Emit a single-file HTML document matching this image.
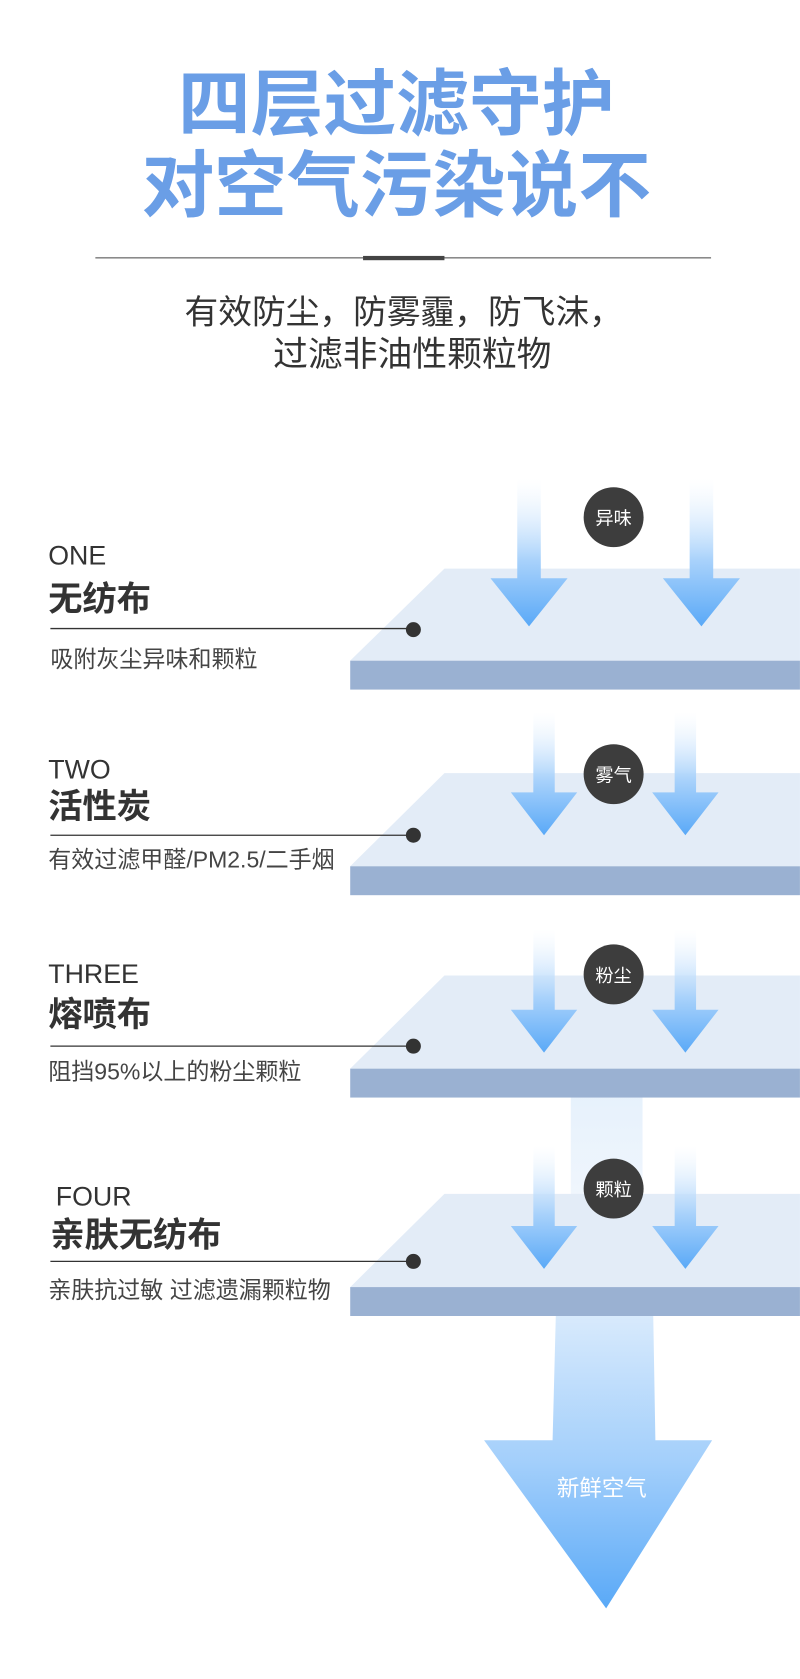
<!DOCTYPE html>
<html><head><meta charset="utf-8"><style>
html,body{margin:0;padding:0;background:#fff;}
svg{display:block;}
text{font-family:"Liberation Sans","Noto Sans CJK SC",sans-serif;}
</style></head><body>
<svg width="800" height="1679" viewBox="0 0 747 1568" xmlns="http://www.w3.org/2000/svg">
<defs>
<linearGradient id="ag" x1="0" y1="0" x2="0" y2="1">
<stop offset="0" stop-color="#ffffff" stop-opacity="0.3"/>
<stop offset="0.55" stop-color="#a9d2fb"/>
<stop offset="1" stop-color="#5aa9f7"/>
</linearGradient>
<linearGradient id="big" x1="0" y1="0" x2="0" y2="1">
<stop offset="0" stop-color="#d8eafc"/>
<stop offset="0.5" stop-color="#a3cffb"/>
<stop offset="1" stop-color="#5aa9f7"/>
</linearGradient>
<linearGradient id="mid" x1="0" y1="0" x2="0" y2="1">
<stop offset="0" stop-color="#e6f1fc"/>
<stop offset="1" stop-color="#f0f6fd"/>
</linearGradient>
<g id="arr1"><polygon points="-11,0 11,0 11,93 36,93 0,138 -36,93 -11,93" fill="url(#ag)"/></g>
<g id="arr2"><polygon points="-10,0 10,0 10,75 31,75 0,115 -31,75 -10,75" fill="url(#ag)"/></g>
</defs>
<rect width="747" height="1568" fill="#fff"/>

<text x="370" y="121" font-size="68" font-weight="700" fill="#6a9ee6" text-anchor="middle">四层过滤守护</text>
<text x="370" y="197" font-size="68" font-weight="700" fill="#6a9ee6" text-anchor="middle">对空气污染说不</text>
<rect x="89" y="240" width="575" height="1.5" fill="#8a8a8a"/>
<rect x="339" y="239" width="76" height="4" fill="#444"/>
<text x="377" y="302" font-size="31.5" fill="#333" text-anchor="middle">有效防尘，防雾霾，防飞沫，</text>
<text x="385" y="342" font-size="32.5" fill="#333" text-anchor="middle">过滤非油性颗粒物</text>

<rect x="533" y="1020" width="67" height="100" fill="url(#mid)"/>

<!-- Layer 1 -->
<polygon points="415,531 747,531 747,617 327,617" fill="#e3ecf7"/>
<rect x="327" y="617" width="420" height="27" fill="#9ab1d2"/>
<use href="#arr1" x="494" y="447"/>
<use href="#arr1" x="655" y="447"/>
<circle cx="573" cy="483" r="28" fill="#3d3d3d"/>
<text x="573" y="490" font-size="17" fill="#fff" text-anchor="middle">异味</text>
<line x1="47" y1="587" x2="386" y2="587" stroke="#333" stroke-width="1.2"/>
<circle cx="386" cy="588" r="7" fill="#333"/>
<text x="45" y="527" font-size="25" fill="#333">ONE</text>
<text x="45" y="570" font-size="32" font-weight="700" fill="#333">无纺布</text>
<text x="47" y="623" font-size="21.5" fill="#444">吸附灰尘异味和颗粒</text>

<!-- Layer 2 -->
<polygon points="415,722 747,722 747,809 327,809" fill="#e3ecf7"/>
<rect x="327" y="809" width="420" height="27" fill="#9ab1d2"/>
<use href="#arr2" x="508" y="665"/>
<use href="#arr2" x="640" y="665"/>
<circle cx="573" cy="723" r="28" fill="#3d3d3d"/>
<text x="573" y="730" font-size="17" fill="#fff" text-anchor="middle">雾气</text>
<line x1="47" y1="780" x2="386" y2="780" stroke="#333" stroke-width="1.2"/>
<circle cx="386" cy="780" r="7" fill="#333"/>
<text x="45" y="727" font-size="25" fill="#333">TWO</text>
<text x="45" y="764" font-size="32" font-weight="700" fill="#333">活性炭</text>
<text x="45" y="810" font-size="21.5" fill="#444">有效过滤甲醛/PM2.5/二手烟</text>

<!-- Layer 3 -->
<polygon points="415,911 747,911 747,998 327,998" fill="#e3ecf7"/>
<rect x="327" y="998" width="420" height="27" fill="#9ab1d2"/>
<use href="#arr2" x="508" y="868"/>
<use href="#arr2" x="640" y="868"/>
<circle cx="573" cy="910" r="28" fill="#3d3d3d"/>
<text x="573" y="917" font-size="17" fill="#fff" text-anchor="middle">粉尘</text>
<line x1="47" y1="977" x2="386" y2="977" stroke="#333" stroke-width="1.2"/>
<circle cx="386" cy="977" r="7" fill="#333"/>
<text x="45" y="918" font-size="25" fill="#333">THREE</text>
<text x="45" y="958" font-size="32" font-weight="700" fill="#333">熔喷布</text>
<text x="45" y="1008" font-size="21.5" fill="#444">阻挡95%以上的粉尘颗粒</text>

<!-- Layer 4 -->
<polygon points="415,1115 747,1115 747,1202 327,1202" fill="#e3ecf7"/>
<rect x="327" y="1202" width="420" height="27" fill="#9ab1d2"/>
<use href="#arr2" x="508" y="1070"/>
<use href="#arr2" x="640" y="1070"/>
<circle cx="573" cy="1110" r="28" fill="#3d3d3d"/>
<text x="573" y="1117" font-size="17" fill="#fff" text-anchor="middle">颗粒</text>
<line x1="47" y1="1178" x2="386" y2="1178" stroke="#333" stroke-width="1.2"/>
<circle cx="386" cy="1178" r="7" fill="#333"/>
<text x="52" y="1126" font-size="25" fill="#333">FOUR</text>
<text x="47" y="1164" font-size="32" font-weight="700" fill="#333">亲肤无纺布</text>
<text x="45" y="1212" font-size="21.5" fill="#444">亲肤抗过敏 过滤遗漏颗粒物</text>

<!-- Big arrow -->
<polygon points="519,1229 610,1229 612,1345 665,1345 566,1502 452,1345 516,1345" fill="url(#big)"/>
<text x="562" y="1397" font-size="21" fill="#fff" text-anchor="middle">新鲜空气</text>
</svg>
</body></html>
